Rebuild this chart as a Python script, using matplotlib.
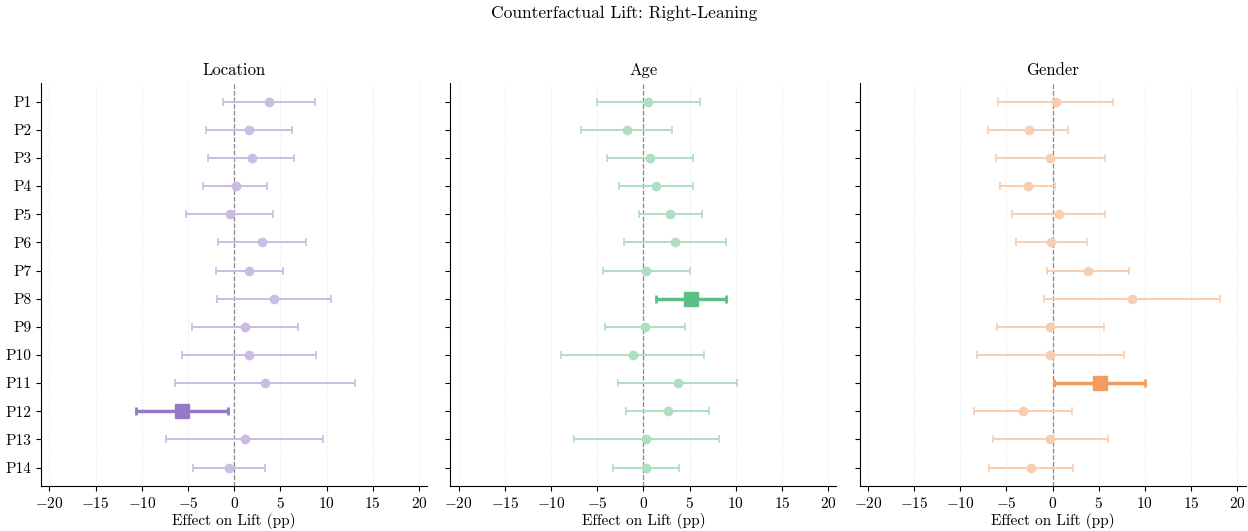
import matplotlib
matplotlib.use("Agg")
import matplotlib.pyplot as plt
from matplotlib.colors import to_rgb
import numpy as np

plt.rcParams['font.family'] = 'serif'
plt.rcParams['font.serif'] = ['cmr10', 'DejaVu Serif']
plt.rcParams['mathtext.fontset'] = 'cm'
plt.rcParams['axes.formatter.use_mathtext'] = True

participants = [f"P{i}" for i in range(1, 15)]
panels = ["Location", "Age", "Gender"]
colors = {"Location": "#9579c6", "Age": "#5dbf88", "Gender": "#f09c62"}

# point estimates and 95% CI bounds (pp)
location_eff = [3.8, 1.6, 1.9, 0.15, -0.5, 3.0, 1.6, 4.3, 1.2, 1.6, 3.35, -5.7, 1.2, -0.57]
location_lo = [-1.2, -3.0, -2.8, -3.35, -5.2, -1.76, -2.0, -1.87, -4.54, -5.65, -6.44, -10.66, -7.35, -4.46]
location_hi = [8.8, 6.3, 6.5, 3.6, 4.2, 7.75, 5.27, 10.45, 6.89, 8.86, 13.1, -0.68, 9.66, 3.32]

age_eff = [0.54, -1.8, 0.72, 1.37, 2.9, 3.45, 0.32, 5.14, 0.22, -1.15, 3.74, 2.63, 0.32, 0.29]
age_lo = [-5.0, -6.7, -3.96, -2.6, -0.47, -2.1, -4.4, 1.33, -4.14, -8.92, -2.7, -1.87, -7.55, -3.27]
age_hi = [6.1, 3.1, 5.4, 5.36, 6.37, 8.96, 5.0, 8.96, 4.53, 6.58, 10.18, 7.12, 8.24, 3.81]

gender_eff = [0.36, -2.59, -0.25, -2.66, 0.68, -0.11, 3.82, 8.6, -0.25, -0.25, 5.15, -3.24, -0.25, -2.3]
gender_lo = [-5.87, -6.95, -6.08, -5.72, -4.36, -3.96, -0.58, -0.94, -5.98, -8.17, 0.14, -8.53, -6.48, -6.88]
gender_hi = [6.59, 1.73, 5.65, 0.32, 5.72, 3.74, 8.28, 18.14, 5.58, 7.74, 10.04, 2.09, 6.05, 2.27]

data = {
    "Location": (location_eff, location_lo, location_hi),
    "Age": (age_eff, age_lo, age_hi),
    "Gender": (gender_eff, gender_lo, gender_hi),
}


def lighten(c, a=0.5):
    r = np.array(to_rgb(c))
    return tuple(r * a + (1 - a))


fig, axes = plt.subplots(1, 3, figsize=(12.48, 5.31), dpi=100, sharey=True)
y = np.arange(len(participants))

for ax, panel in zip(axes, panels):
    eff, lo, hi = [np.array(v) for v in data[panel]]
    c = colors[panel]
    light = lighten(c, 0.5)
    for i in range(len(participants)):
        err = [[eff[i] - lo[i]], [hi[i] - eff[i]]]
        sig = lo[i] > 0 or hi[i] < 0
        if sig:
            ax.errorbar(eff[i], y[i], xerr=err, fmt='s', color=c, ms=10,
                        elinewidth=2.5, capsize=3, capthick=2, zorder=3)
        else:
            ax.errorbar(eff[i], y[i], xerr=err, fmt='o', color=light, ms=6,
                        elinewidth=1.4, capsize=3, capthick=1.2, zorder=2)
    ax.axvline(0, color='#888888', linestyle='--', linewidth=0.9, zorder=1)
    ax.set_xlim(-20.9, 20.9)
    ax.set_xticks(np.arange(-20, 21, 5))
    ax.grid(axis='x', linestyle=':', color='#e6e6e6', linewidth=0.8)
    ax.set_axisbelow(True)
    ax.spines['top'].set_visible(False)
    ax.spines['right'].set_visible(False)
    ax.set_title(panel, fontsize=12)
    ax.set_xlabel("Effect on Lift (pp)", fontsize=11, labelpad=2)
    ax.tick_params(labelsize=11)

axes[0].set_yticks(y)
axes[0].set_yticklabels(participants)
axes[0].set_ylim(13.65, -0.65)

fig.suptitle("Counterfactual Lift: Right-Leaning", fontsize=12.5, y=0.99)
plt.subplots_adjust(left=0.033, right=0.998, top=0.843, bottom=0.085, wspace=0.06)
plt.savefig("out.png", dpi=100)
